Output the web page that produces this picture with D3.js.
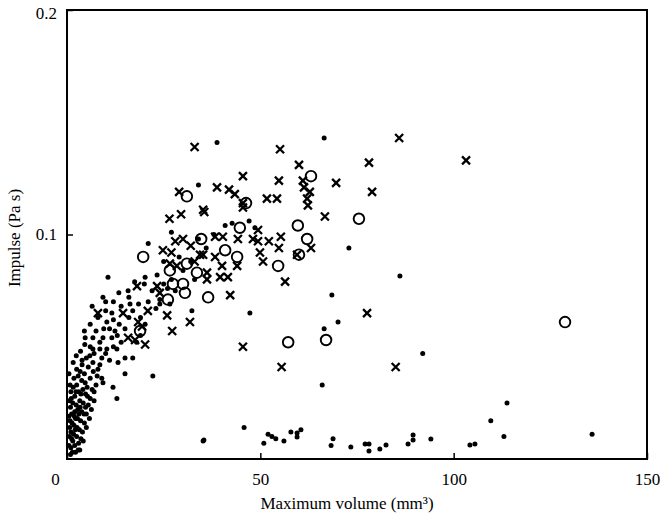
<!DOCTYPE html>
<html>
<head>
<meta charset="utf-8">
<script src="https://cdn.jsdelivr.net/npm/d3@7"></script>
<style>
  body { margin: 0; background: #fff; }
  svg { font-family: "Liberation Serif", "Times New Roman", serif; }
</style>
</head>
<body>
<div class="chart"></div>
<script>
// Data: [maximum volume (mm3), impulse (Pa s)]
var dots = [
  [1,0.005],[1.5,0.008],[2,0.006],[1,0.012],[2.5,0.010],[3,0.007],[1.8,0.015],[3.2,0.013],
  [2.2,0.018],[1.2,0.020],[3.5,0.017],[4,0.012],[2.8,0.022],[1.5,0.025],[3.8,0.021],[4.5,0.016],
  [2,0.028],[4.2,0.025],[5,0.020],[3,0.030],[1,0.030],[5.5,0.024],[4.8,0.029],[2.5,0.033],
  [6,0.027],[3.8,0.035],[5.2,0.032],[6.5,0.031],[1.8,0.036],[7,0.026],[4.5,0.038],[6,0.036],
  [2.5,0.040],[7.5,0.033],[0.8,0.017],[0.6,0.010],[2.6,0.014],[3.6,0.009],[4.4,0.020],[5.8,0.018],
  [1.4,0.003],[2.9,0.004],[3.3,0.026],[0.9,0.023],[2,0.021],[5,0.014],[6.3,0.022],[1.6,0.032],
  [3.9,0.042],[5.5,0.041],
  [0.5,0.006],[0.7,0.014],[0.5,0.019],[0.6,0.026],[0.8,0.033],[0.5,0.038],[1.2,0.009],
  [1.3,0.016],[1.7,0.011],[2.1,0.013],[2.4,0.024],[1.9,0.019],[2.7,0.018],[3.1,0.020],
  [3.4,0.023],[1.1,0.027],[2.3,0.030],[3.6,0.029],[4.1,0.031],[4.2,0.008],[3.3,0.004],
  [2.2,0.003],[0.9,0.002],[1.6,0.043],[2.9,0.037],[4.8,0.023],[5.3,0.028],[3.4,0.039],
  [6.8,0.039],[5.9,0.046],[2.4,0.046],[4.6,0.051],
  [5,0.045],[6,0.050],[7,0.047],[8,0.040],[9,0.045],[8.5,0.052],[10,0.047],[11,0.044],
  [12,0.050],[7.5,0.057],[9.5,0.058],[11,0.058],[13,0.055],[14,0.052],[3.5,0.048],[4.5,0.057],
  [6,0.060],[8,0.063],[10,0.066],[12,0.062],[13.5,0.060],[15,0.058],[16,0.063],[14,0.068],
  [17,0.066],[18.5,0.069],[12,0.070],[10,0.070],[16,0.072],[19,0.063],[21,0.070],[22,0.075],
  [20,0.078],[17.5,0.079],[25,0.078],[26,0.076],[27,0.080],[24,0.071],[28,0.075],[23,0.067],
  [30,0.084],[32,0.088],[33,0.080],[29,0.090],[36,0.094],[38,0.100],[34,0.098],[15,0.038],
  [17,0.045],[18,0.052],[19,0.055],[9,0.036],[7,0.030],
  [10.6,0.081],[6.5,0.068],[9.3,0.072],[13.4,0.074],[15.8,0.075],[20.2,0.081],[23.3,0.082],
  [16.3,0.069],[11.6,0.065],[10.3,0.061],[12.4,0.057],[4.7,0.054],[6.7,0.054],[9.3,0.054],
  [11.6,0.054],[12.9,0.049],[6.7,0.049],[8.5,0.049],[10.3,0.049],[15,0.045],[3.9,0.044],
  [6.7,0.043],[8.5,0.042],[13.2,0.043],[7.8,0.037],[4.7,0.034],[9.3,0.034],[11.9,0.032],
  [12.9,0.027],[22.2,0.037],[32.3,0.066],[35.2,0.008],[20.2,0.060],[24,0.069],[26.6,0.069],
  [35.4,0.0085],[45.8,0.014],[50.9,0.007],[52,0.011],[53,0.010],[54,0.009],[56.1,0.008],
  [57.9,0.012],[59.5,0.0116],[59.5,0.0098],[60.5,0.013],[68.3,0.006],[68.8,0.009],[73.4,0.0053],
  [77.1,0.0067],[78.1,0.0067],[78.1,0.0036],[80.9,0.0045],[82.5,0.0062],[88.2,0.0067],
  [89.5,0.0107],[89.5,0.0085],[94.1,0.0089],[104.2,0.0062],[105.5,0.0067],[109.6,0.017],
  [113,0.010],[113.8,0.025],[135.8,0.011],
  [38.8,0.141],[66.5,0.143],[72.9,0.094],[68.5,0.073],[47.3,0.065],[70.1,0.061],[66.5,0.058],
  [86.1,0.0815],[92,0.047],[66,0.033],[42.7,0.105],[47.1,0.106],[48.6,0.103],[40.9,0.104],
  [34,0.122],[27,0.101],[21,0.096],[25,0.088]
];

var crosses = [
  [55.1,0.138],[60,0.131],[45.5,0.126],[54.8,0.124],[38.8,0.121],[41.9,0.120],[43.4,0.118],
  [45.5,0.114],[45.5,0.112],[51.7,0.116],[54.3,0.116],[61,0.124],[61.3,0.121],[62.8,0.119],
  [62.1,0.116],[62.3,0.113],[69.6,0.123],[78.1,0.132],[78.9,0.119],[66.7,0.108],[35.2,0.111],
  [38.3,0.099],[40.3,0.099],[44.2,0.098],[48.1,0.098],[49.4,0.097],[52.2,0.097],[55.3,0.099],
  [54.8,0.094],[49.4,0.102],[49.9,0.092],[50.7,0.088],[59.5,0.091],[63.1,0.094],[56.4,0.079],
  [35.2,0.091],[38.3,0.090],[40.1,0.086],[41.6,0.081],[42.2,0.073],[36.2,0.083],[39.6,0.081],
  [44,0.086],[77.6,0.065],[45.5,0.050],[85.9,0.143],[103.2,0.133],[85,0.041],[55.5,0.041],
  [18.1,0.077],[23.3,0.077],[24,0.074],[26.6,0.087],[28.4,0.086],[8,0.065],[14.5,0.065],
  [20.9,0.066],[25.9,0.064],[31.8,0.061],[27.2,0.057],[19.4,0.059],[18.4,0.061],[15.8,0.054],
  [17.6,0.053],[20.2,0.051],[34.4,0.091],[36.2,0.080],[24.8,0.093],
  [28,0.097],[30,0.098],[32,0.095],[27,0.092],[33,0.088],
  [33,0.139],[26.5,0.107],[29.5,0.109],[29,0.119],[35.5,0.110]
];

var rings = [
  [63.1,0.126],[75.5,0.107],[44.7,0.103],[59.7,0.104],[62.1,0.098],[60,0.091],[54.6,0.086],
  [40.9,0.093],[44,0.090],[34.7,0.098],[36.5,0.072],[46.3,0.114],[57.2,0.052],[67,0.053],
  [128.8,0.061],[19.7,0.090],[26.6,0.084],[31,0.087],[33.6,0.083],[27.4,0.078],[30,0.078],
  [30.5,0.074],[26.1,0.071],[18.9,0.057],[31,0.117]
];

var xTicks = [0, 50, 100, 150];
var yTicks = [0.1, 0.2];

// layout
var w = 666
  , h = 516
  , padL = 67
  , padR = 647
  , padT = 10
  , padB = 459;

var svg = d3.select('.chart')
            .append('svg')
            .attr('width', w)
            .attr('height', h);

var x = d3.scaleLinear().domain([0, 150]).range([padL, padR]);
var y = d3.scaleLinear().domain([0, 0.2]).range([padB, padT]);

// axes, ticks pointing inward
var xAxis = svg.append('g')
  .attr('transform', 'translate(0,' + padB + ')')
  .call(d3.axisBottom(x).tickValues(xTicks).tickSize(-6).tickPadding(14)
    .tickFormat(d3.format('d')));

var yAxis = svg.append('g')
  .attr('transform', 'translate(' + padL + ',0)')
  .call(d3.axisLeft(y).tickValues(yTicks).tickSize(-6).tickPadding(10)
    .tickFormat(d3.format('.1f')));

[xAxis, yAxis].forEach(function (g) {
  g.select('.domain').remove();
  g.selectAll('line').attr('stroke', '#000').attr('stroke-width', 1.5);
  g.selectAll('text').attr('font-size', 17).attr('fill', '#000')
    .attr('font-family', '"Liberation Serif", serif');
});

// the 0 label sits left of the corner
xAxis.selectAll('.tick').filter(function (d) { return d === 0; })
  .select('text').attr('dx', -12);
yAxis.selectAll('.tick').filter(function (d) { return d === 0.2; })
  .select('text').attr('dy', '0.5em');

// frame
svg.append('rect')
  .attr('x', padL)
  .attr('y', padT)
  .attr('width', padR - padL)
  .attr('height', padB - padT)
  .attr('fill', 'none')
  .attr('stroke', '#000')
  .attr('stroke-width', 2);

// titles
svg.append('text')
  .attr('x', 347)
  .attr('y', 509)
  .attr('text-anchor', 'middle')
  .attr('font-size', 17)
  .text('Maximum volume (mm³)');

svg.append('text')
  .attr('transform', 'translate(20,238) rotate(-90)')
  .attr('text-anchor', 'middle')
  .attr('font-size', 17)
  .text('Impulse (Pa s)');

// marks
svg.append('g').selectAll('circle')
  .data(dots)
  .enter()
  .append('circle')
  .attr('cx', function (d) { return x(d[0]); })
  .attr('cy', function (d) { return y(d[1]); })
  .attr('r', 2.5)
  .attr('fill', '#000');

svg.append('g').selectAll('path')
  .data(crosses)
  .enter()
  .append('path')
  .attr('transform', function (d) { return 'translate(' + x(d[0]) + ',' + y(d[1]) + ')'; })
  .attr('d', 'M-4,-4L4,4M-4,4L4,-4')
  .attr('stroke', '#000')
  .attr('stroke-width', 2.3);

svg.append('g').selectAll('circle')
  .data(rings)
  .enter()
  .append('circle')
  .attr('cx', function (d) { return x(d[0]); })
  .attr('cy', function (d) { return y(d[1]); })
  .attr('r', 5.3)
  .attr('fill', 'none')
  .attr('stroke', '#000')
  .attr('stroke-width', 1.9);
</script>
</body>
</html>
